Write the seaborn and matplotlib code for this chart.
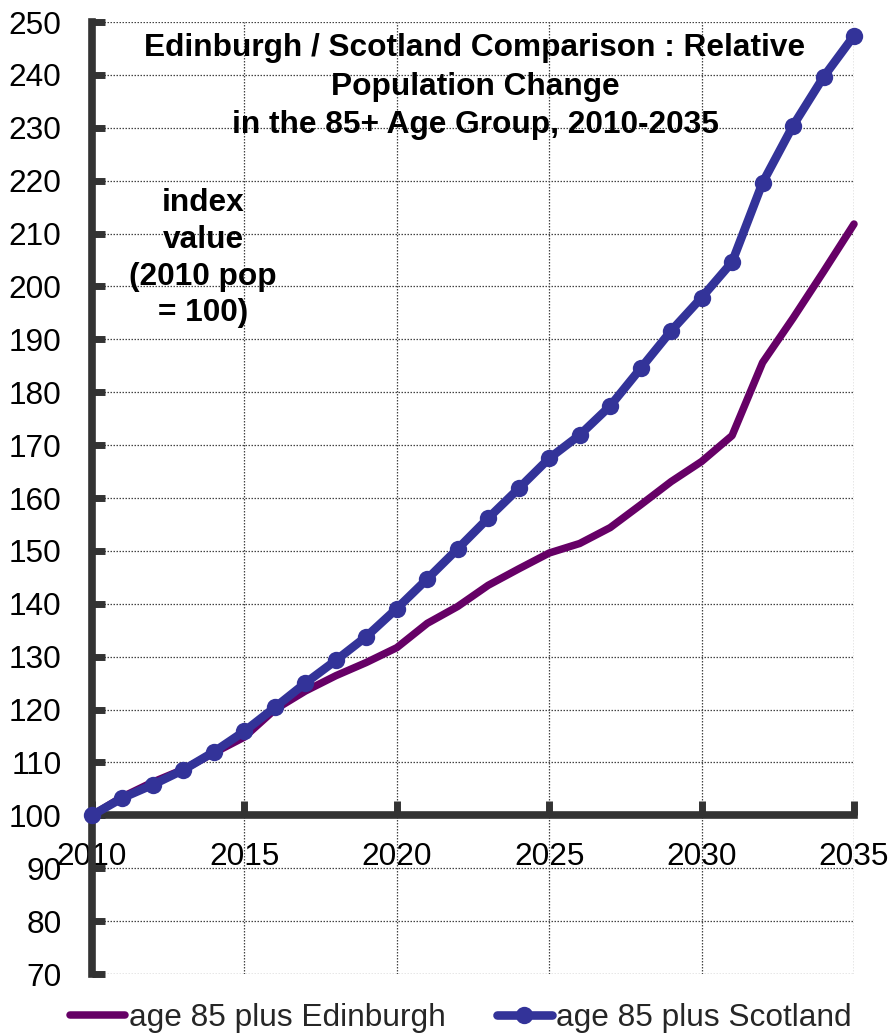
import matplotlib
matplotlib.use("Agg")
import matplotlib.pyplot as plt
import seaborn as sns
import pandas as pd
import numpy as np

years = list(range(2010, 2036))
edinburgh = [100, 103.5, 106.3, 108.7, 111.8, 114.8, 120.0, 123.5, 126.4, 128.9,
             131.7, 136.3, 139.5, 143.5, 146.6, 149.6, 151.4, 154.4, 158.7, 163.1,
             166.9, 171.8, 185.6, 194.0, 202.8, 211.8]
scotland = [100, 103.3, 105.8, 108.6, 112.0, 115.9, 120.4, 125.0, 129.3, 133.8,
            139.1, 144.7, 150.4, 156.2, 161.8, 167.5, 171.9, 177.4, 184.5, 191.6,
            197.9, 204.6, 219.6, 230.4, 239.6, 247.4]
series_names = ["age 85 plus Edinburgh", "age 85 plus Scotland"]
title_lines = ["Edinburgh / Scotland Comparison : Relative",
               "Population Change",
               "in the 85+ Age Group, 2010-2035"]
ylabel_lines = ["index", "value", "(2010 pop", "= 100)"]
y_ticks = list(range(70, 251, 10))
x_ticks = [2010, 2015, 2020, 2025, 2030, 2035]

sns.set_theme(style="white")
plt.rcParams['font.family'] = ['Liberation Sans', 'DejaVu Sans']

df_e = pd.DataFrame({"year": years, "value": edinburgh})
df_s = pd.DataFrame({"year": years, "value": scotland})

W, H = 891, 1033
fig = plt.figure(figsize=(W / 100, H / 100), dpi=100)
ax = fig.add_axes([92 / W, 1 - 974 / H, (854 - 92) / W, (974 - 22) / H])

purple = "#660066"
navy = "#333399"
fs = 22.8

sns.lineplot(data=df_e, x="year", y="value", ax=ax, color=purple, linewidth=5.4,
             label=series_names[0], zorder=4, clip_on=False,
             solid_capstyle="round", solid_joinstyle="round")
sns.lineplot(data=df_s, x="year", y="value", ax=ax, color=navy, linewidth=6.2,
             marker="o", markersize=12.5, markeredgewidth=0, markeredgecolor=navy,
             label=series_names[1], zorder=5, clip_on=False,
             solid_capstyle="round", solid_joinstyle="round")

ax.set_xlim(2010, 2035)
ax.set_ylim(70, 250)
ax.set_xticks(x_ticks)
ax.set_yticks(y_ticks)
ax.set_xlabel("")
ax.set_ylabel("")

ax.grid(True, color="#444444", linestyle=(0, (1.2, 1.2)), linewidth=0.9)
ax.set_axisbelow(True)

for s in ["top", "right"]:
    ax.spines[s].set_visible(False)
spine_color = "#333333"
ax.spines["left"].set_color(spine_color)
ax.spines["left"].set_linewidth(5.5)
ax.spines["bottom"].set_color(spine_color)
ax.spines["bottom"].set_linewidth(5.5)
ax.spines["bottom"].set_position(("data", 100))
ax.spines["left"].set_zorder(3)
ax.spines["bottom"].set_zorder(3)

ax.tick_params(axis="y", direction="in", length=9, width=5, color=spine_color,
               labelsize=fs, pad=22, labelcolor="black", left=True)
ax.tick_params(axis="x", direction="in", length=10, width=5, color=spine_color,
               labelsize=fs, pad=19, labelcolor="black", bottom=True)

leg = ax.get_legend()
if leg is not None:
    leg.remove()
handles, labels = ax.get_legend_handles_labels()
fig.legend(handles, labels, loc="center", bbox_to_anchor=(0.517, 1 - 1018 / H),
           ncol=2, frameon=False, fontsize=fs, handlelength=1.75,
           handletextpad=0.13, columnspacing=1.6, borderpad=0, borderaxespad=0)

# title lines
for line, yc in zip(title_lines, [48, 87, 125]):
    fig.text(475 / W, 1 - yc / H, line, ha="center", va="center",
             fontsize=fs, fontweight="bold", color="black")

for line, yc in zip(ylabel_lines, [203, 240, 277, 313]):
    fig.text(203 / W, 1 - yc / H, line, ha="center", va="center",
             fontsize=fs, fontweight="bold", color="black")

fig.savefig("out.png", dpi=100, facecolor="white")
